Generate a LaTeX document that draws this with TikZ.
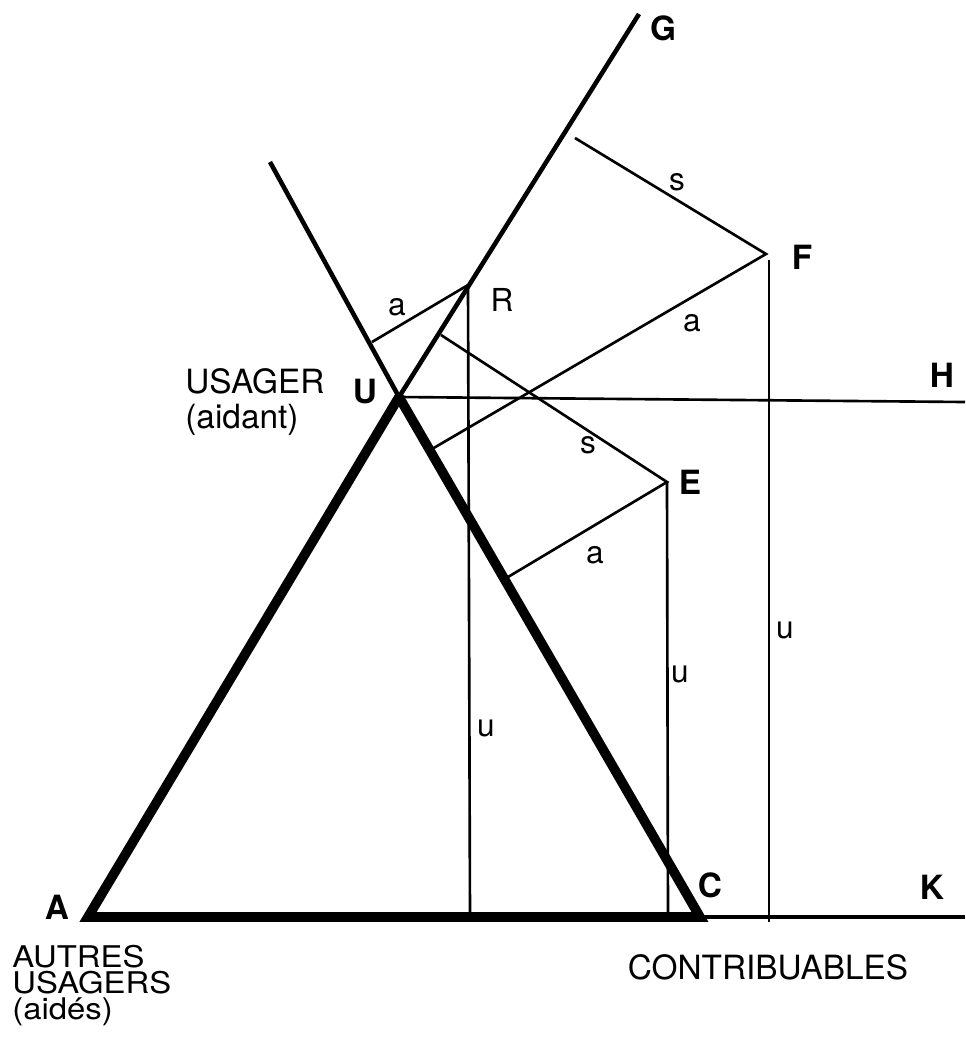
\documentclass[tikz,border=0pt]{standalone}
\usepackage{fontspec}
\setmainfont{TeX Gyre Heros}
\newfontfamily\breitfont[FakeStretch=1.1]{TeX Gyre Heros}
\usetikzlibrary{calc}

\begin{document}
\begin{tikzpicture}[x=0.02cm, y=-0.02cm,
    dick/.style={line width=5.5pt, line join=miter},
    mittel/.style={line width=2.6pt},
    duenn/.style={line width=1.5pt},
    punkt/.style={font=\fontsize{19}{20}\selectfont\bfseries, inner sep=0pt},
    mass/.style={font=\fontsize{18}{20}\selectfont, inner sep=0pt},
    titel/.style={font=\fontsize{19}{20}\selectfont, align=left, inner sep=0pt},
]
\useasboundingbox (0,0) rectangle (965,1042);

% Punkte
\coordinate (A) at (88,917);
\coordinate (C) at (700,917);
\coordinate (U) at (399,397);
\coordinate (G) at (639,14);
\coordinate (L) at (270,162);
\coordinate (R) at (468,285);
\coordinate (E) at (667,482);
\coordinate (F) at (766,254);
\coordinate (H) at (965,402);
\coordinate (K) at (965,917);

% Fusspunkte
\coordinate (Ra) at (372,342);
\coordinate (Es) at (441,335);
\coordinate (Ea) at (508,577);
\coordinate (Fa) at (432,449);
\coordinate (Fs) at (575,138);
\coordinate (Ru) at (470,917);
\coordinate (Eu) at (668,917);
\coordinate (Ft) at (769,260);
\coordinate (Fu) at (769,922);

% Dreieck
\draw[dick] (U) -- (A) -- (C) -- (U);
\draw[mittel] (L) -- (U) -- (G);
\draw[line width=2.2pt] (C) -- (K);
\draw[duenn] (U) -- (H);

% Hilfslinien
\draw[duenn] (R) -- (Ra);
\draw[duenn] (R) -- (Ru);
\draw[duenn] (Es) -- (E) -- (Ea);
\draw[duenn] (E) -- (Eu);
\draw[duenn] (Fs) -- (F) -- (Fa);
\draw[duenn] (Ft) -- (Fu);

% Beschriftung
\node[punkt] (Gl) at (663,28) {G};
\node[punkt] (Fl) at (802,257) {F};
\node[punkt] (Hl) at (942,375) {H};
\node[punkt] (El) at (690,482) {E};
\node[punkt] (Cl) at (710,885) {C};
\node[punkt] (Kl) at (932,887) {K};
\node[punkt] (Al) at (57,907) {A};
\node[punkt] (Ul) at (365,392) {U};

\node[mass] (Rl) at (502,300) {R};
\node[mass] (a1) at (397,307) {a};
\node[mass] (a2) at (692,323) {a};
\node[mass] (a3) at (595,555) {a};
\node[mass] (s1) at (677,182) {s};
\node[mass] (s2) at (588,445) {s};
\node[mass] (u1) at (486,728) {u};
\node[mass] (u2) at (680,674) {u};
\node[mass] (u3) at (785,630) {u};

\node[titel, anchor=west] (usager) at (185,402) {USAGER\\(aidant)};
\node[titel, anchor=north west, font=\fontsize{17}{14.8}\breitfont] (autres) at (12,945) {AUTRES\\USAGERS\\(aidés)};
\node[titel] (contrib) at (768,967) {CONTRIBUABLES};

\end{tikzpicture}
\end{document}
